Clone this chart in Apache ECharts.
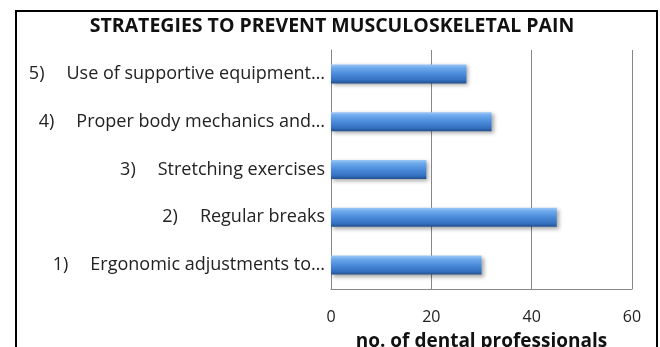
<!DOCTYPE html>
<html>
<head>
<meta charset="utf-8">
<script src="https://cdn.jsdelivr.net/npm/echarts@6/dist/echarts.min.js"></script>
<style>
  html, body { margin: 0; padding: 0; background: #fff; }
  #chart { width: 660px; height: 347px; }
</style>
</head>
<body>
<div id="chart"></div>
<script>
// Strategies, listed bottom-to-top as they appear on the category axis
const categories = [
  '1)|Ergonomic adjustments to…',
  '2)|Regular breaks',
  '3)|Stretching exercises',
  '4)|Proper body mechanics and…',
  '5)|Use of supportive equipment…'
];
// Number of dental professionals per strategy
const professionals = [30, 45, 19, 32, 27];
const xTicks = { min: 0, max: 60, interval: 20 };

const FONT = '"Open Sans", Lato, sans-serif';
const chart = echarts.init(document.getElementById('chart'), null, { renderer: 'canvas' });

chart.setOption({
  backgroundColor: '#fff',
  animation: false,
  title: {
    text: 'STRATEGIES TO PREVENT MUSCULOSKELETAL PAIN',
    left: 327,
    top: 11,
    textAlign: 'center',
    textStyle: { fontFamily: FONT, fontSize: 19.5, fontWeight: 'bold', color: '#111' }
  },
  graphic: [{
    type: 'rect',
    shape: { x: 16, y: 11, width: 641, height: 400 },
    style: { fill: 'none', stroke: '#000', lineWidth: 2 },
    silent: true
  }],
  grid: { left: 331, right: 28, top: 50, bottom: 58, containLabel: false, outerBoundsMode: 'none' },
  xAxis: {
    type: 'value',
    min: xTicks.min,
    max: xTicks.max,
    interval: xTicks.interval,
    name: 'no. of dental professionals',
    nameLocation: 'middle',
    nameGap: 43,
    nameTextStyle: { fontFamily: FONT, fontSize: 19, fontWeight: 'bold', color: '#111' },
    axisLine: { show: true, lineStyle: { color: '#878787', width: 1 } },
    axisTick: { show: false },
    splitLine: { show: true, lineStyle: { color: '#878787', width: 1 } },
    axisLabel: { margin: 20, fontFamily: FONT, fontSize: 16, color: '#222' }
  },
  yAxis: {
    type: 'category',
    data: categories,
    axisLine: { show: true, lineStyle: { color: '#878787', width: 1 } },
    axisTick: { show: false },
    axisLabel: {
      margin: 6,
      formatter: function (v) {
        const parts = v.split('|');
        return '{n|' + parts[0] + '}{t|' + parts[1] + '}';
      },
      rich: {
        n: { fontFamily: FONT, fontSize: 18, color: '#222', padding: [0, 22, 0, 0] },
        t: { fontFamily: FONT, fontSize: 18, color: '#222' }
      }
    }
  },
  series: [{
    type: 'bar',
    data: professionals,
    barWidth: 19,
    itemStyle: {
      color: new echarts.graphic.LinearGradient(0, 0, 0, 1, [
        { offset: 0, color: '#9cc8f6' },
        { offset: 0.18, color: '#6ea9ec' },
        { offset: 0.5, color: '#4b8bda' },
        { offset: 0.82, color: '#3571c0' },
        { offset: 1, color: '#22508e' }
      ]),
      shadowColor: 'rgba(0,0,0,0.35)',
      shadowBlur: 4,
      shadowOffsetX: 2,
      shadowOffsetY: 2
    }
  }]
});
</script>
</body>
</html>
